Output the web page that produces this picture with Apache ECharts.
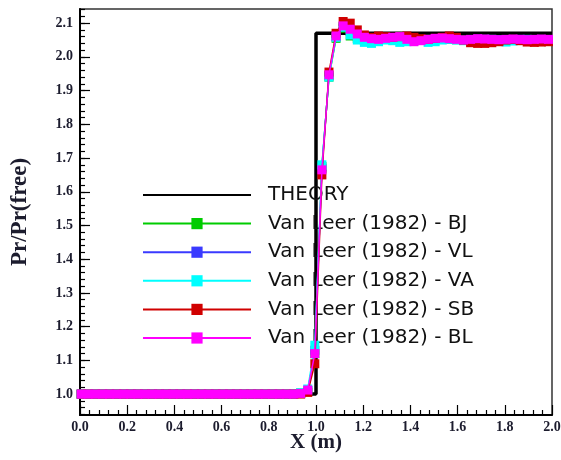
<!DOCTYPE html>
<html>
<head>
<meta charset="utf-8">
<script src="https://cdn.jsdelivr.net/npm/echarts@6/dist/echarts.min.js"></script>
<style>
  html, body { margin: 0; padding: 0; background: #fff; }
  #chart { width: 561px; height: 460px; }
</style>
</head>
<body>
<div id="chart"></div>
<script>
// Shared grid positions of the numerical solutions (m)
const xGrid = [
  0.005, 0.035, 0.065, 0.095, 0.125, 0.155, 0.185, 0.215, 0.245, 0.275,
  0.305, 0.335, 0.365, 0.395, 0.425, 0.455, 0.485, 0.515, 0.545, 0.575,
  0.605, 0.635, 0.665, 0.695, 0.725, 0.755, 0.785, 0.815, 0.845, 0.875,
  0.905, 0.935, 0.965, 0.995, 1.025, 1.055, 1.085, 1.115, 1.145, 1.175,
  1.205, 1.235, 1.265, 1.295, 1.325, 1.355, 1.385, 1.415, 1.445, 1.475,
  1.505, 1.535, 1.565, 1.595, 1.625, 1.655, 1.685, 1.715, 1.745, 1.775,
  1.805, 1.835, 1.865, 1.895, 1.925, 1.955, 1.985
];

// Exact solution: pressure jump at x = 1.0
const theoryX = [0.0, 1.0, 1.0, 2.0];
const theoryY = [1.0, 1.0, 2.07, 2.07];

const bjY = [
  1.0, 1.0, 1.0, 1.0, 1.0, 1.0, 1.0, 1.0, 1.0, 1.0,
  1.0, 1.0, 1.0, 1.0, 1.0, 1.0, 1.0, 1.0, 1.0, 1.0,
  1.0, 1.0, 1.0, 1.0, 1.0, 1.0, 1.0, 1.0, 1.0, 1.0,
  1.0, 1.003, 1.01, 1.12, 1.675, 1.94, 2.055, 2.085, 2.062, 2.055,
  2.05, 2.05, 2.052, 2.054, 2.055, 2.054, 2.052, 2.05, 2.05, 2.052,
  2.053, 2.053, 2.052, 2.051, 2.05, 2.05, 2.051, 2.052, 2.052, 2.051,
  2.05, 2.05, 2.051, 2.052, 2.051, 2.05, 2.05
];
const vlY = [
  1.0, 1.0, 1.0, 1.0, 1.0, 1.0, 1.0, 1.0, 1.0, 1.0,
  1.0, 1.0, 1.0, 1.0, 1.0, 1.0, 1.0, 1.0, 1.0, 1.0,
  1.0, 1.0, 1.0, 1.0, 1.0, 1.0, 1.0, 1.0, 1.0, 1.0,
  1.0, 1.002, 1.01, 1.13, 1.67, 1.945, 2.06, 2.09, 2.075, 2.062,
  2.055, 2.052, 2.053, 2.055, 2.056, 2.055, 2.053, 2.05, 2.05, 2.052,
  2.054, 2.054, 2.053, 2.052, 2.051, 2.051, 2.052, 2.052, 2.052, 2.051,
  2.051, 2.051, 2.052, 2.052, 2.051, 2.051, 2.051
];
const vaY = [
  1.0, 1.0, 1.0, 1.0, 1.0, 1.0, 1.0, 1.0, 1.0, 1.0,
  1.0, 1.0, 1.0, 1.0, 1.0, 1.0, 1.0, 1.0, 1.0, 1.0,
  1.0, 1.0, 1.0, 1.0, 1.0, 1.0, 1.0, 1.0, 1.0, 1.0,
  1.0, 1.004, 1.015, 1.145, 1.68, 1.94, 2.058, 2.088, 2.065, 2.05,
  2.043, 2.04, 2.045, 2.05, 2.048, 2.043, 2.045, 2.048, 2.05, 2.043,
  2.045, 2.05, 2.052, 2.05, 2.048, 2.048, 2.05, 2.05, 2.05, 2.046,
  2.044, 2.047, 2.05, 2.05, 2.05, 2.05, 2.05
];
const sbY = [
  1.0, 1.0, 1.0, 1.0, 1.0, 1.0, 1.0, 1.0, 1.0, 1.0,
  1.0, 1.0, 1.0, 1.0, 1.0, 1.0, 1.0, 1.0, 1.0, 1.0,
  1.0, 1.0, 1.0, 1.0, 1.0, 1.0, 1.0, 1.0, 1.0, 1.0,
  1.0, 1.0, 1.005, 1.09, 1.65, 1.955, 2.07, 2.105, 2.1, 2.08,
  2.065, 2.058, 2.062, 2.06, 2.058, 2.06, 2.062, 2.058, 2.054, 2.052,
  2.055, 2.058, 2.062, 2.058, 2.05, 2.042, 2.04, 2.04, 2.042, 2.045,
  2.05, 2.052, 2.048, 2.044, 2.043, 2.044, 2.045
];
const blY = [
  1.0, 1.0, 1.0, 1.0, 1.0, 1.0, 1.0, 1.0, 1.0, 1.0,
  1.0, 1.0, 1.0, 1.0, 1.0, 1.0, 1.0, 1.0, 1.0, 1.0,
  1.0, 1.0, 1.0, 1.0, 1.0, 1.0, 1.0, 1.0, 1.0, 1.0,
  1.0, 1.002, 1.012, 1.12, 1.665, 1.947, 2.062, 2.092, 2.082, 2.068,
  2.058, 2.054, 2.052, 2.055, 2.058, 2.06, 2.052, 2.045, 2.048, 2.052,
  2.055, 2.056, 2.054, 2.052, 2.05, 2.052, 2.054, 2.053, 2.052, 2.051,
  2.052, 2.053, 2.052, 2.051, 2.052, 2.053, 2.052
];

const seriesNames = [
  'THEORY',
  'Van Leer (1982) - BJ',
  'Van Leer (1982) - VL',
  'Van Leer (1982) - VA',
  'Van Leer (1982) - SB',
  'Van Leer (1982) - BL'
];
const seriesColors = ['#000000', '#00cc00', '#3a3aff', '#00ffff', '#d00000', '#ff00ff'];

const yTickLabels = [1.0, 1.1, 1.2, 1.3, 1.4, 1.5, 1.6, 1.7, 1.8, 1.9, 2.0, 2.1];
const Y_MIN = 0.938, Y_MAX = 2.142;

// minor ticks every 0.02 along the pressure axis
const yMinor = [];
for (let i = 47; i <= 107; i++) yMinor.push(+(i * 0.02).toFixed(2));

const pair = (xs, ys) => xs.map((x, i) => [x, ys[i]]);

const serifText = { fontFamily: 'Liberation Serif', fontWeight: 'bold', color: '#1c1c2e' };

const numericSeries = [bjY, vlY, vaY, sbY, blY].map((ys, i) => ({
  name: seriesNames[i + 1],
  type: 'line',
  data: pair(xGrid, ys),
  symbol: 'rect',
  symbolSize: 9,
  showSymbol: true,
  lineStyle: { width: 1.5, color: seriesColors[i + 1] },
  itemStyle: { color: seriesColors[i + 1] },
  animation: false,
  z: 3 + i
}));

// legend entries: the exact solution is shown as a plain line
const legendData = seriesNames.map((name, i) =>
  i === 0 ? { name: name, itemStyle: { opacity: 0 } } : { name: name });

const chart = echarts.init(document.getElementById('chart'), null, { renderer: 'canvas' });
chart.setOption({
  animation: false,
  backgroundColor: '#ffffff',
  grid: {
    left: 80, right: 9, top: 9, bottom: 45,
    outerBoundsMode: 'none',
    show: true, borderColor: '#333', borderWidth: 1.5
  },
  xAxis: {
    type: 'value',
    min: 0, max: 2, interval: 0.2,
    name: 'X (m)',
    nameLocation: 'middle',
    nameGap: 17,
    nameMoveOverlap: false,
    nameTextStyle: Object.assign({ fontSize: 21, verticalAlign: 'top' }, serifText),
    axisLine: { show: true, onZero: false, lineStyle: { color: '#000', width: 2 } },
    axisTick: { show: true, inside: true, length: 10, lineStyle: { color: '#000', width: 1.2 } },
    minorTick: { show: true, splitNumber: 5, length: 5, lineStyle: { color: '#000', width: 1.2 } },
    splitLine: { show: false },
    axisLabel: Object.assign({ fontSize: 14, margin: 5, formatter: v => v.toFixed(1) }, serifText)
  },
  yAxis: [
    {
      type: 'value',
      min: Y_MIN, max: Y_MAX,
      name: 'Pr/Pr(free)',
      nameLocation: 'middle',
      nameGap: 48,
      nameTextStyle: Object.assign({ fontSize: 23 }, serifText),
      axisLine: { show: true, onZero: false, lineStyle: { color: '#000', width: 2 } },
      axisTick: { show: true, inside: true, length: 10, customValues: yTickLabels, lineStyle: { color: '#000', width: 1.2 } },
      splitLine: { show: false },
      axisLabel: Object.assign({ fontSize: 14, margin: 7, customValues: yTickLabels, formatter: v => v.toFixed(1) }, serifText)
    },
    {
      type: 'value',
      position: 'left',
      min: Y_MIN, max: Y_MAX,
      axisLine: { show: false },
      axisTick: { show: true, inside: true, length: 5, customValues: yMinor, lineStyle: { color: '#000', width: 1.2 } },
      axisLabel: { show: false },
      splitLine: { show: false }
    }
  ],
  legend: {
    orient: 'vertical',
    left: 142, top: 185,
    padding: 0,
    itemWidth: 108, itemHeight: 14,
    itemGap: 8.6,
    data: legendData,
    textStyle: { fontFamily: 'DejaVu Sans', fontSize: 20, color: '#111', lineHeight: 20, padding: [0, 0, 0, 12] }
  },
  series: [
    {
      name: seriesNames[0],
      type: 'line',
      data: pair(theoryX, theoryY),
      symbol: 'none',
      lineStyle: { width: 3.5, color: seriesColors[0] },
      itemStyle: { color: seriesColors[0] },
      animation: false,
      z: 2
    }
  ].concat(numericSeries)
});
</script>
</body>
</html>
